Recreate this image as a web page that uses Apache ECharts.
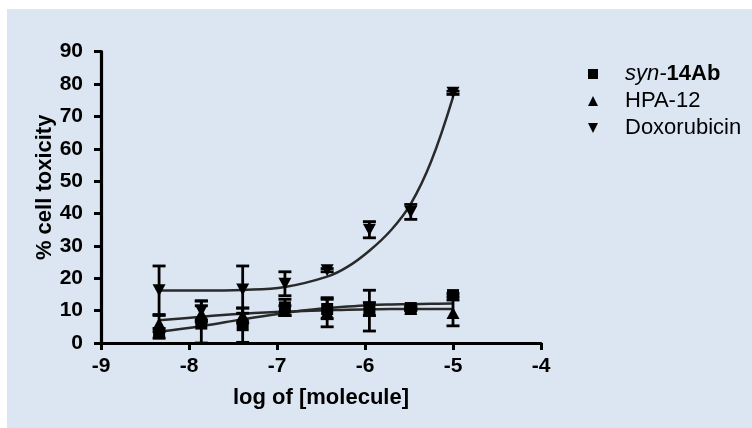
<!DOCTYPE html>
<html><head><meta charset="utf-8">
<script src="https://cdn.jsdelivr.net/npm/echarts@6/dist/echarts.min.js"></script>
<style>
html,body{margin:0;padding:0;background:#fff;}
#c{position:absolute;left:7px;top:9px;width:745px;height:419px;background:#dce6f2;}
</style></head>
<body><div id="c"></div>
<script>
// log concentrations of data points
var xs = [-8.34, -7.86, -7.39, -6.91, -6.43, -5.95, -5.48, -5.0];
var synMean = [3, 6, 5.5, 11, 10.5, 10.5, 10.8, 14.8];
var synErr  = [1.5, 7, 5.3, 2.5, 3, 2, 0.5, 0.5];
var hpaMean = [6, 9, 8.5, 10, 9.5, 10, 10.5, 9.3];
var hpaErr  = [2.5, 2.5, 2.3, 1.5, 4.5, 6.3, 0.5, 4];
var doxMean = [16.3, 10, 16.5, 18.3, 22.5, 35, 40.5, 77.3];
var doxErr  = [7.5, 3, 7.3, 3.7, 0.5, 2.5, 2.3, 0.5];
// fitted curves
var curveX   = [-8.34, -7.86, -7.39, -6.91, -6.43, -6.2, -5.95, -5.7, -5.48, -5.25, -5.0];
var synCurve = [3.5, 5.2, 7.3, 9.3, 10.8, 11.3, 11.7, 11.9, 12, 12.1, 12.2];
var hpaCurve = [7, 8.1, 9, 9.7, 10.1, 10.3, 10.4, 10.5, 10.5, 10.5, 10.5];
var doxCurve = [16.2, 16.2, 16.4, 17.3, 20.5, 23.5, 28.5, 35, 43, 56, 76];
var xTicks = [-9, -8, -7, -6, -5, -4];
var yTicks = [0, 10, 20, 30, 40, 50, 60, 70, 80, 90];

var names = ['syn-14Ab', 'HPA-12', 'Doxorubicin'];
var symbols = ['rect', 'triangle', 'path://M0,0 L10,0 L5,10 Z'];
var means = [synMean, hpaMean, doxMean];
var errs = [synErr, hpaErr, doxErr];
var curves = [synCurve, hpaCurve, doxCurve];

function pairs(x, y){ return x.map(function(v,i){ return [v, y[i]]; }); }

var series = [];
for (var k = 0; k < 3; k++) {
  series.push({
    name: names[k] + ' fit', type: 'line', data: pairs(curveX, curves[k]),
    smooth: 0.4, showSymbol: false, symbol: 'none', silent: true,
    lineStyle: { color: '#2a2a2a', width: 2.5 }, z: 2
  });
  (function(mean, err){
    series.push({
      name: names[k] + ' err', type: 'custom', silent: true, z: 3,
      data: xs.map(function(v,i){ return [v, mean[i] - err[i], mean[i] + err[i]]; }),
      renderItem: function(params, api){
        var x = api.value(0);
        var lo = api.coord([x, Math.max(0, api.value(1))]);
        var hi = api.coord([x, api.value(2)]);
        var w = 6.5;
        var st = { stroke: '#000', lineWidth: 2.8 };
        return { type: 'group', children: [
          { type: 'line', shape: { x1: lo[0], y1: lo[1], x2: hi[0], y2: hi[1] }, style: st },
          { type: 'line', shape: { x1: hi[0]-w, y1: hi[1], x2: hi[0]+w, y2: hi[1] }, style: st },
          { type: 'line', shape: { x1: lo[0]-w, y1: lo[1], x2: lo[0]+w, y2: lo[1] }, style: st }
        ]};
      }
    });
  })(means[k], errs[k]);
  series.push({
    name: names[k], type: 'scatter', data: pairs(xs, means[k]),
    symbol: symbols[k], symbolSize: k === 0 ? 12 : [13, 12],
    itemStyle: { color: '#000', opacity: 1 }, z: 4
  });
}

var chart = echarts.init(document.getElementById('c'));
chart.setOption({
  animation: false,
  backgroundColor: 'transparent',
  grid: { left: 94, right: 211, top: 42.7, bottom: 85 },
  legend: {
    data: names.map(function(n, i){ return { name: n, icon: symbols[i], itemStyle: { color: '#000', opacity: 1 } }; }),
    orient: 'vertical', left: 576, top: 49,
    itemWidth: 10, itemHeight: 10, itemGap: 5,
    formatter: function(n){
      if (n === 'syn-14Ab') return '{i|syn-}{b|14Ab}';
      return '{n|' + n + '}';
    },
    textStyle: {
      fontFamily: 'Liberation Sans, Arial', fontSize: 22, color: '#000', lineHeight: 22,
      padding: [0, 0, 0, 22],
      rich: {
        i: { fontFamily: 'Liberation Sans, Arial', fontSize: 22, fontStyle: 'italic', color: '#000' },
        b: { fontFamily: 'Liberation Sans, Arial', fontSize: 22, fontWeight: 'bold', color: '#000' },
        n: { fontFamily: 'Liberation Sans, Arial', fontSize: 22, color: '#000' }
      }
    }
  },
  xAxis: {
    type: 'value', min: xTicks[0], max: xTicks[xTicks.length-1], interval: 1,
    name: 'log of [molecule]', nameLocation: 'middle', nameGap: 44,
    nameTextStyle: { fontFamily: 'Liberation Sans, Arial', fontSize: 22, fontWeight: 'bold', color: '#000' },
    axisLine: { lineStyle: { color: '#000', width: 3.2 } },
    axisTick: { length: 7, lineStyle: { color: '#000', width: 3 } },
    axisLabel: { margin: 13, fontFamily: 'Liberation Sans, Arial', fontSize: 21, fontWeight: 'bold', color: '#000' },
    splitLine: { show: false }
  },
  yAxis: {
    type: 'value', min: yTicks[0], max: yTicks[yTicks.length-1], interval: 10,
    name: '% cell toxicity', nameLocation: 'middle', nameGap: 45, nameMoveOverlap: false,
    nameTextStyle: { fontFamily: 'Liberation Sans, Arial', fontSize: 22, fontWeight: 'bold', color: '#000', padding: [0, 0, 0, 20] },
    axisLine: { show: true, lineStyle: { color: '#000', width: 3.2 } },
    axisTick: { show: true, length: 7, lineStyle: { color: '#000', width: 3 } },
    axisLabel: { margin: 18, fontFamily: 'Liberation Sans, Arial', fontSize: 21, fontWeight: 'bold', color: '#000' },
    splitLine: { show: false }
  },
  series: series
});
</script></body></html>
